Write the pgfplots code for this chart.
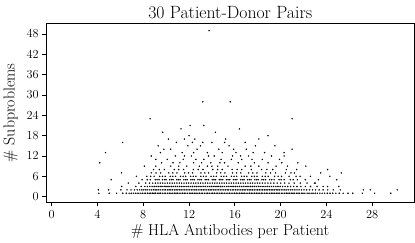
\documentclass[border=0pt]{standalone}
\usepackage{pgfplots}
\pgfplotsset{compat=1.18}
\begin{document}
\begin{tikzpicture}
\begin{axis}[
  scale only axis,
  width=360pt, height=175pt,
  xmin=-0.5, xmax=31.7, ymin=-1.7, ymax=51.2,
  xtick={0,4,...,28}, ytick={0,6,...,48},
  tick align=outside, xtick pos=bottom, ytick pos=left,
  tick style={black, line width=0.7pt}, major tick length=3.5pt,
  axis line style={line width=0.8pt},
  tick label style={font=\fontsize{12.5}{13}\selectfont},
  xlabel={\# HLA Antibodies per Patient},
  ylabel={\# Subproblems},
  label style={font=\fontsize{15.5}{16}\selectfont},
  title={\rule{0pt}{14.5pt}30 Patient-Donor Pairs},
  title style={font=\fontsize{17.3}{18}\selectfont, yshift=-5pt},
  xlabel style={yshift=1pt}, ylabel style={yshift=2pt},
  yticklabel style={xshift=0pt}, xticklabel style={yshift=-1pt},
]
\addplot[only marks, mark=*, mark size=0.5pt, draw=none, fill=black!70, fill opacity=0.85] coordinates {
(4.12,1) (5.03,1) (5.68,1) (6.21,1) (6.52,1) (6.77,1) (6.95,1) (7.14,1) (7.31,1) (7.46,1) (7.62,1) (7.79,1) (7.93,1) (8.08,1) (8.21,1) (8.37,1) (8.52,1) (8.66,1) (8.81,1) (8.94,1) (9.07,1) (9.23,1) (9.38,1) (9.51,1) (9.67,1) (9.82,1) (9.96,1) (10.11,1) (10.27,1) (10.42,1) (10.55,1) (10.71,1) (10.86,1) (10.99,1) (11.14,1) (11.29,1) (11.43,1) (11.58,1) (11.72,1) (11.88,1) (12.03,1) (12.17,1) (12.32,1) (12.46,1) (12.61,1) (12.77,1) (12.91,1) (13.05,1) (13.19,1) (13.34,1) (13.49,1) (13.63,1) (13.78,1) (13.93,1) (14.07,1) (14.22,1) (14.36,1) (14.51,1) (14.67,1) (14.81,1) (14.95,1) (15.09,1) (15.24,1) (15.39,1) (15.53,1) (15.68,1) (15.83,1) (15.97,1) (16.12,1) (16.26,1) (16.41,1) (16.56,1) (16.71,1) (16.85,1) (16.99,1) (17.14,1) (17.28,1) (17.43,1) (17.58,1) (17.72,1) (17.87,1) (18.02,1) (18.16,1) (18.31,1) (18.45,1) (18.6,1) (18.74,1) (18.89,1) (19.04,1) (19.18,1) (19.33,1) (19.47,1) (19.62,1) (19.77,1) (19.91,1) (20.06,1) (20.2,1) (20.35,1) (20.49,1) (20.64,1) (20.79,1) (20.93,1) (21.08,1) (21.22,1) (21.37,1) (21.52,1) (21.66,1) (21.81,1) (21.95,1) (22.12,1) (22.31,1) (22.48,1) (22.66,1) (22.83,1) (23.02,1) (23.21,1) (23.43,1) (23.62,1) (23.84,1) (24.07,1) (24.31,1) (24.55,1) (24.83,1) (25.12,1) (25.46,1) (25.88,1) (26.3,1) (27.14,1) (28.21,1) (29.62,1)
(4.08,2) (4.98,2) (6.05,2) (6.58,2) (6.93,2) (7.24,2) (7.47,2) (7.69,2) (7.88,2) (8.05,2) (8.23,2) (8.39,2) (8.57,2) (8.72,2) (8.88,2) (9.04,2) (9.19,2) (9.35,2) (9.49,2) (9.66,2) (9.81,2) (9.95,2) (10.12,2) (10.26,2) (10.41,2) (10.57,2) (10.73,2) (10.87,2) (11.02,2) (11.17,2) (11.31,2) (11.47,2) (11.62,2) (11.76,2) (11.91,2) (12.06,2) (12.21,2) (12.35,2) (12.51,2) (12.65,2) (12.8,2) (12.96,2) (13.1,2) (13.25,2) (13.39,2) (13.55,2) (13.7,2) (13.84,2) (13.99,2) (14.14,2) (14.28,2) (14.44,2) (14.59,2) (14.73,2) (14.88,2) (15.03,2) (15.17,2) (15.33,2) (15.47,2) (15.62,2) (15.77,2) (15.91,2) (16.07,2) (16.21,2) (16.36,2) (16.52,2) (16.66,2) (16.81,2) (16.95,2) (17.11,2) (17.25,2) (17.4,2) (17.55,2) (17.69,2) (17.85,2) (17.99,2) (18.14,2) (18.29,2) (18.43,2) (18.58,2) (18.73,2) (18.88,2) (19.02,2) (19.17,2) (19.32,2) (19.46,2) (19.61,2) (19.76,2) (19.9,2) (20.05,2) (20.21,2) (20.37,2) (20.54,2) (20.71,2) (20.89,2) (21.06,2) (21.24,2) (21.43,2) (21.61,2) (21.82,2) (22.04,2) (22.27,2) (22.52,2) (22.78,2) (23.05,2) (23.36,2) (23.71,2) (24.12,2) (24.6,2) (25.21,2) (27.22,2) (27.83,2) (30.18,2)
(6.12,3) (7.35,3) (7.82,3) (8.14,3) (8.36,3) (8.58,3) (8.77,3) (8.96,3) (9.13,3) (9.31,3) (9.48,3) (9.64,3) (9.83,3) (9.99,3) (10.16,3) (10.33,3) (10.49,3) (10.66,3) (10.82,3) (10.98,3) (11.15,3) (11.32,3) (11.48,3) (11.64,3) (11.81,3) (11.97,3) (12.14,3) (12.3,3) (12.47,3) (12.63,3) (12.79,3) (12.96,3) (13.12,3) (13.29,3) (13.45,3) (13.62,3) (13.78,3) (13.94,3) (14.11,3) (14.27,3) (14.44,3) (14.6,3) (14.77,3) (14.93,3) (15.09,3) (15.26,3) (15.42,3) (15.59,3) (15.75,3) (15.91,3) (16.08,3) (16.24,3) (16.41,3) (16.57,3) (16.73,3) (16.9,3) (17.06,3) (17.23,3) (17.39,3) (17.56,3) (17.72,3) (17.88,3) (18.05,3) (18.21,3) (18.38,3) (18.54,3) (18.71,3) (18.87,3) (19.04,3) (19.21,3) (19.39,3) (19.58,3) (19.77,3) (19.96,3) (20.17,3) (20.39,3) (20.62,3) (20.87,3) (21.14,3) (21.43,3) (21.77,3) (22.16,3) (22.61,3) (23.18,3) (23.71,3) (24.1,3) (25.08,3)
(6.7,4) (7.62,4) (8.21,4) (8.55,4) (8.83,4) (9.06,4) (9.28,4) (9.49,4) (9.7,4) (9.9,4) (10.11,4) (10.32,4) (10.53,4) (10.73,4) (10.94,4) (11.15,4) (11.35,4) (11.56,4) (11.77,4) (11.97,4) (12.18,4) (12.39,4) (12.59,4) (12.8,4) (13.01,4) (13.21,4) (13.42,4) (13.63,4) (13.83,4) (14.04,4) (14.25,4) (14.45,4) (14.66,4) (14.87,4) (15.07,4) (15.28,4) (15.49,4) (15.69,4) (15.9,4) (16.11,4) (16.31,4) (16.52,4) (16.73,4) (16.93,4) (17.14,4) (17.35,4) (17.55,4) (17.76,4) (17.97,4) (18.18,4) (18.41,4) (18.64,4) (18.89,4) (19.14,4) (19.41,4) (19.7,4) (20.01,4) (20.35,4) (20.73,4) (21.18,4) (21.72,4) (22.31,4) (22.96,4) (23.02,4)
(5.2,5) (7.9,5) (8.62,5) (9.05,5) (9.38,5) (9.69,5) (9.99,5) (10.31,5) (10.6,5) (10.93,5) (11.22,5) (11.55,5) (11.84,5) (12.17,5) (12.46,5) (12.78,5) (13.08,5) (13.41,5) (13.7,5) (14.03,5) (14.32,5) (14.64,5) (14.94,5) (15.27,5) (15.56,5) (15.88,5) (16.18,5) (16.51,5) (16.8,5) (17.12,5) (17.42,5) (17.75,5) (18.04,5) (18.37,5) (18.69,5) (19.04,5) (19.43,5) (19.86,5) (20.31,5) (20.84,5) (21.46,5) (22.15,5) (24.9,5)
(8.35,5) (9.21,5) (9.88,5) (10.47,5) (11.08,5) (11.71,5) (12.33,5) (12.95,5) (13.55,5) (14.18,5) (14.79,5) (15.41,5) (16.03,5) (16.66,5) (17.28,5) (17.91,5) (18.52,5) (19.22,5) (20.05,5) (21.1,5) (23.3,5)
(7.4,6) (8.31,6) (8.95,6) (9.44,6) (9.92,6) (10.36,6) (10.82,6) (11.25,6) (11.71,6) (12.14,6) (12.6,6) (13.03,6) (13.49,6) (13.92,6) (14.38,6) (14.81,6) (15.27,6) (15.7,6) (16.16,6) (16.59,6) (17.05,6) (17.48,6) (17.94,6) (18.4,6) (18.91,6) (19.47,6) (20.08,6) (20.74,6) (21.35,6) (22.6,6)
(8.65,6) (9.68,6) (10.58,6) (11.48,6) (12.37,6) (13.26,6) (14.15,6) (15.04,6) (15.93,6) (16.82,6) (17.71,6) (18.65,6) (19.78,6) (21.7,6) (24.3,6)
(6.1,7) (8.7,7) (9.52,7) (10.23,7) (10.94,7) (11.62,7) (12.31,7) (13.04,7) (13.71,7) (14.42,7) (15.13,7) (15.8,7) (16.52,7) (17.21,7) (17.93,7) (18.7,7) (19.55,7) (20.42,7) (21.2,7) (25.3,7)
(9.12,7) (10.58,7) (11.95,7) (13.38,7) (14.77,7) (16.15,7) (17.57,7) (19.12,7) (20.9,7) (23.5,7)
(8.9,8) (9.84,8) (10.71,8) (11.53,8) (12.38,8) (13.22,8) (14.07,8) (14.9,8) (15.76,8) (16.6,8) (17.45,8) (18.34,8) (19.31,8) (20.5,8)
(9.4,8) (11.1,8) (12.8,8) (14.5,8) (16.2,8) (18.8,8) (21.4,8) (24.1,8)
(9.1,9) (10.4,9) (11.8,9) (12.9,9) (13.6,9) (14.5,9) (15.4,9) (16.9,9) (18.1,9) (19.6,9) (8.1,9) (11.1,9) (14.0,9) (17.4,9) (20.6,9) (22.2,9)
(4.2,10) (9.6,10) (11.2,10) (12.4,10) (13.9,10) (15.1,10) (16.3,10) (17.7,10) (20.1,10) (10.6,10) (13.1,10) (14.7,10) (18.9,10) (21.5,10)
(10.1,11) (11.5,11) (13.3,11) (14.8,11) (16.6,11) (18.4,11) (9.1,11) (12.6,11) (15.7,11) (17.5,11) (19.9,11)
(8.7,12) (10.8,12) (12.2,12) (14.2,12) (15.8,12) (17.2,12) (19.2,12) (20.3,12) (11.6,12) (13.7,12) (16.5,12)
(4.7,13) (9.5,13) (11.4,13) (13.6,13) (16.1,13) (18.6,13) (12.4,13) (14.9,13) (17.6,13) (20.3,13)
(10.4,14) (12.7,14) (14.6,14) (17.0,14) (21.0,14) (9.8,14) (15.9,14)
(9.3,15) (11.9,15) (13.0,15) (15.5,15) (17.8,15) (19.5,15)
(6.2,16) (10.9,16) (13.2,16) (14.0,16) (16.9,16) (12.3,16) (15.1,16)
(11.6,17) (12.5,17) (15.2,17) (10.2,17) (18.1,17)
(12.0,18) (18.9,18)
(9.7,19) (14.3,19)
(11.3,20) (16.4,20)
(12.1,21) (13.3,21)
(8.6,23) (21.0,23)
(13.2,28) (15.6,28)
(13.75,49)
};
\end{axis}
\end{tikzpicture}
\end{document}
